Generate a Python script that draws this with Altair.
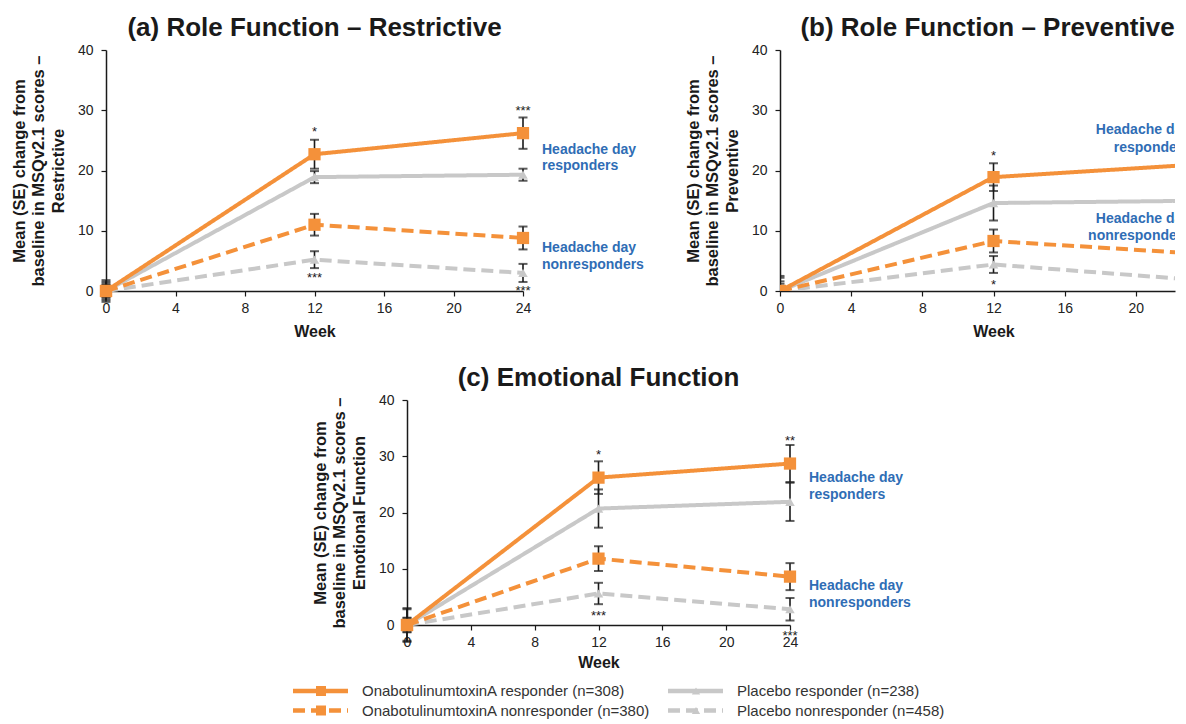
import altair as alt
import pandas as pd

FONT = "Liberation Sans, Arial, Helvetica, sans-serif"
ORANGE = "#F4913A"
GRAY = "#C8C8C8"
BLUE = "#2F6DB5"
BLACK = "#1a1a1a"
NOVIEW = alt.ViewBackground(stroke="transparent", fill="transparent")

SERIES = [
    "OnabotulinumtoxinA responder (n=308)",
    "OnabotulinumtoxinA nonresponder (n=380)",
    "Placebo responder (n=238)",
    "Placebo nonresponder (n=458)",
]
SERIES_COLORS = [ORANGE, ORANGE, GRAY, GRAY]
SERIES_DASH = [[1, 0], [12, 6], [1, 0], [12, 6]]

WEEKS = [0, 12, 24]
X_TICKS = [0, 4, 8, 12, 16, 20, 24]
Y_TICKS = [0, 10, 20, 30, 40]

# ---- (a) Role Function - Restrictive ----
a_botox_resp = [0.0, 22.7, 26.2]
a_botox_resp_se = [1.8, 2.4, 2.6]
a_botox_non = [0.0, 11.0, 8.8]
a_botox_non_se = [1.2, 1.8, 1.9]
a_pbo_resp = [0.0, 18.9, 19.3]
a_pbo_resp_se = [1.5, 1.0, 1.0]
a_pbo_non = [0.0, 5.2, 3.0]
a_pbo_non_se = [1.0, 1.4, 1.5]
a_star_week = [12, 12, 24, 24]
a_star_y = [26.9, 2.7, 30.3, 0.5]
a_star_txt = ["*", "***", "***", "***"]
a_lab_y = [23.4, 20.7, 7.2, 4.3]

# ---- (b) Role Function - Preventive ----
b_botox_resp = [0.0, 18.9, 21.1]
b_botox_resp_se = [2.5, 2.3, 2.4]
b_botox_non = [0.0, 8.3, 6.1]
b_botox_non_se = [1.6, 1.9, 1.9]
b_pbo_resp = [0.0, 14.6, 15.0]
b_pbo_resp_se = [2.2, 2.9, 2.8]
b_pbo_non = [0.0, 4.4, 1.7]
b_pbo_non_se = [1.2, 1.4, 1.5]
b_star_week = [12, 12]
b_star_y = [22.9, 1.5]
b_star_txt = ["*", "*"]
b_lab_y = [26.7, 23.8, 11.9, 9.1]

# ---- (c) Emotional Function ----
c_botox_resp = [0.0, 26.2, 28.7]
c_botox_resp_se = [2.8, 2.9, 3.3]
c_botox_non = [0.0, 11.8, 8.6]
c_botox_non_se = [1.3, 2.2, 2.4]
c_pbo_resp = [0.0, 20.7, 21.9]
c_pbo_resp_se = [3.0, 3.4, 3.4]
c_pbo_non = [0.0, 5.6, 2.8]
c_pbo_non_se = [1.2, 1.9, 2.0]
c_star_week = [12, 12, 24, 24]
c_star_y = [30.7, 2.1, 33.3, -1.5]
c_star_txt = ["*", "***", "**", "***"]
c_lab_y = [26.1, 23.1, 7.0, 4.0]

LAB_TXT = ["Headache day", "responders", "Headache day", "nonresponders"]

color_enc = alt.Color("series:N", scale=alt.Scale(domain=SERIES, range=SERIES_COLORS), legend=None)
dash_enc = alt.StrokeDash("series:N", scale=alt.Scale(domain=SERIES, range=SERIES_DASH), legend=None)


def panel(title, ytitle3, means, ses, star_w, star_y, star_t, lab_y, width, height,
          align, dx, xmax=24, clip=False, title_dx=0, xtitle_x=None, xtitle_pad=8):
    rows = []
    for s, m, e in zip(SERIES, means, ses):
        for w, mv, ev in zip(WEEKS, m, e):
            rows.append(dict(series=s, week=w, mean=mv, lo=mv - ev, hi=mv + ev,
                             grp="B" if s.startswith("Onabot") else "P"))
    df = pd.DataFrame(rows)
    stars = pd.DataFrame({"week": star_w, "yv": star_y, "txt": star_t})
    labs = pd.DataFrame({"week": [24] * 4, "yv": lab_y, "txt": LAB_TXT})

    xscale = alt.Scale(domain=[0, xmax], nice=False, zero=False)
    yscale = alt.Scale(domain=[0, 40], nice=False, zero=False)
    xax = dict(values=[t for t in X_TICKS if t <= xmax], grid=False, tickSize=5, tickColor=BLACK,
               tickWidth=1.2, domainColor=BLACK, domainWidth=1.5, labelFont=FONT, labelFontSize=14,
               labelColor="#222", labelPadding=5, labelFlush=False,
               title="Week", titleFont=FONT, titleFontSize=16, titleFontWeight="bold",
               titleColor=BLACK, titlePadding=xtitle_pad)
    if xtitle_x is not None:
        xax["titleX"] = xtitle_x
    xaxis = alt.Axis(**xax)
    yaxis = alt.Axis(values=Y_TICKS, grid=False, tickSize=5, tickColor=BLACK, tickWidth=1.2,
                     domainColor=BLACK, domainWidth=1.5, labelFont=FONT, labelFontSize=14,
                     labelColor="#222", labelPadding=8,
                     title=["Mean (SE) change from", "baseline in MSQv2.1 scores \u2013", ytitle3],
                     titleFont=FONT, titleFontSize=16.5, titleFontWeight="bold", titleColor=BLACK,
                     titleLineHeight=19.5, titlePadding=11)

    def X(f):
        return alt.X(f, type="quantitative", scale=xscale, axis=xaxis)

    def Y(f):
        return alt.Y(f, type="quantitative", scale=yscale, axis=yaxis)

    base = alt.Chart(df)
    eb = base.mark_rule(color=BLACK, strokeWidth=1.6, clip=clip).encode(X("week"), Y("lo"), y2="hi:Q")
    cap_lo = base.mark_tick(orient="horizontal", color=BLACK, size=9, thickness=2, clip=clip).encode(
        X("week"), Y("lo"))
    cap_hi = base.mark_tick(orient="horizontal", color=BLACK, size=9, thickness=2, clip=clip).encode(
        X("week"), Y("hi"))
    pl = base.transform_filter(alt.datum.grp == "P").mark_line(strokeWidth=4, clip=clip).encode(
        X("week"), Y("mean"), color=color_enc, strokeDash=dash_enc, detail="series:N")
    pt = base.transform_filter(alt.datum.grp == "P").mark_point(
        shape="triangle-up", filled=True, size=90, color=GRAY, opacity=1, clip=clip).encode(
        X("week"), Y("mean"))
    bl = base.transform_filter(alt.datum.grp == "B").mark_line(strokeWidth=4, clip=clip).encode(
        X("week"), Y("mean"), color=color_enc, strokeDash=dash_enc, detail="series:N")
    bs = base.transform_filter(alt.datum.grp == "B").mark_square(
        size=150, color=ORANGE, opacity=1, clip=clip).encode(X("week"), Y("mean"))
    st = alt.Chart(stars).mark_text(font=FONT, fontSize=13, color=BLACK, dy=3, baseline="middle",
                                    clip=clip).encode(X("week"), Y("yv"), text="txt:N")
    lb = alt.Chart(labs).mark_text(font=FONT, fontSize=14, fontWeight="bold", color=BLUE,
                                   align=align, dx=dx, baseline="middle", clip=clip).encode(
        X("week"), Y("yv"), text="txt:N")
    return alt.layer(eb, cap_lo, cap_hi, pl, pt, bl, bs, st, lb).properties(
        width=width, height=height, view=NOVIEW,
        title=alt.TitleParams(title, font=FONT, fontSize=26, fontWeight="bold", color=BLACK,
                              anchor="middle", frame="group", offset=2, dx=title_dx))


pa = panel("(a) Role Function \u2013 Restrictive", "Restrictive",
           [a_botox_resp, a_botox_non, a_pbo_resp, a_pbo_non],
           [a_botox_resp_se, a_botox_non_se, a_pbo_resp_se, a_pbo_non_se],
           a_star_week, a_star_y, a_star_txt, a_lab_y, 417, 241, "left", 19, xtitle_pad=8)
# panel (b) is cut off at the right edge of the figure, as in the source image
B_XMAX = 22.2
pb = panel("(b) Role Function \u2013 Preventive", "Preventive",
           [b_botox_resp, b_botox_non, b_pbo_resp, b_pbo_non],
           [b_botox_resp_se, b_botox_non_se, b_pbo_resp_se, b_pbo_non_se],
           b_star_week, b_star_y, b_star_txt, b_lab_y, 395, 241, "right", -17,
           xmax=B_XMAX, clip=True, title_dx=10, xtitle_x=395 * 12 / B_XMAX, xtitle_pad=8)
pc = panel("(c) Emotional Function", "Emotional Function",
           [c_botox_resp, c_botox_non, c_pbo_resp, c_pbo_non],
           [c_botox_resp_se, c_botox_non_se, c_pbo_resp_se, c_pbo_non_se],
           c_star_week, c_star_y, c_star_txt, c_lab_y, 383, 225, "left", 19, xtitle_pad=5)


def spacer(w):
    return alt.Chart(pd.DataFrame({"v": [0]})).mark_point(opacity=0, size=0).encode(
        x=alt.X("v:Q", axis=None, scale=alt.Scale(domain=[0, w], nice=False)),
        y=alt.value(0)).properties(width=w, height=1, view=NOVIEW)


# ---- custom legend ----
leg_col = [0, 0, 1, 1]
leg_row = [0, 1, 0, 1]
leg_df = pd.DataFrame({"series": SERIES, "col": leg_col, "row": leg_row})
lxs = alt.Scale(domain=[0, 670], nice=False, zero=False)
lys = alt.Scale(domain=[0, 1], range=[0, 19.5], nice=False, zero=False)


def LX(f):
    return alt.X(f, type="quantitative", scale=lxs, axis=None)


LY = alt.Y("row:Q", scale=lys, axis=None)
lbase = alt.Chart(leg_df).transform_calculate(
    x0="datum.col*375", x1="datum.col*375+55", xm="datum.col*375+28", xt="datum.col*375+69")
leg_line = lbase.mark_rule(strokeWidth=4.5).encode(
    LX("x0"), x2="x1:Q", y=LY, color=color_enc,
    strokeDash=alt.StrokeDash("series:N", scale=alt.Scale(domain=SERIES, range=[[1, 0], [12, 8], [1, 0], [12, 8]]), legend=None))
leg_sq = lbase.transform_filter(alt.datum.col == 0).mark_square(size=100, color=ORANGE, opacity=1).encode(LX("xm"), y=LY)
leg_tri = lbase.transform_filter(alt.datum.col == 1).mark_point(
    shape="triangle-up", filled=True, size=70, color=GRAY, opacity=1).encode(LX("xm"), y=LY)
leg_txt = lbase.mark_text(align="left", baseline="middle", font=FONT, fontSize=15, color="#333").encode(
    LX("xt"), y=LY, text="series:N")
legend = alt.layer(leg_line, leg_sq, leg_tri, leg_txt).properties(width=670, height=20, view=NOVIEW)

top = alt.hconcat(pa, pb, spacing=39)
row_c = alt.hconcat(spacer(204), pc, spacing=0)
row_leg = alt.hconcat(spacer(183), legend, spacing=0)
bottom = alt.vconcat(row_c, row_leg, spacing=12)
chart = alt.vconcat(top, bottom, spacing=24).properties(
    padding={"left": 2, "top": 6, "right": 0, "bottom": 0}
).configure_view(stroke="transparent", strokeWidth=0).configure(background="white")

chart.save("out.html", embed_options={"renderer": "svg", "actions": False})
